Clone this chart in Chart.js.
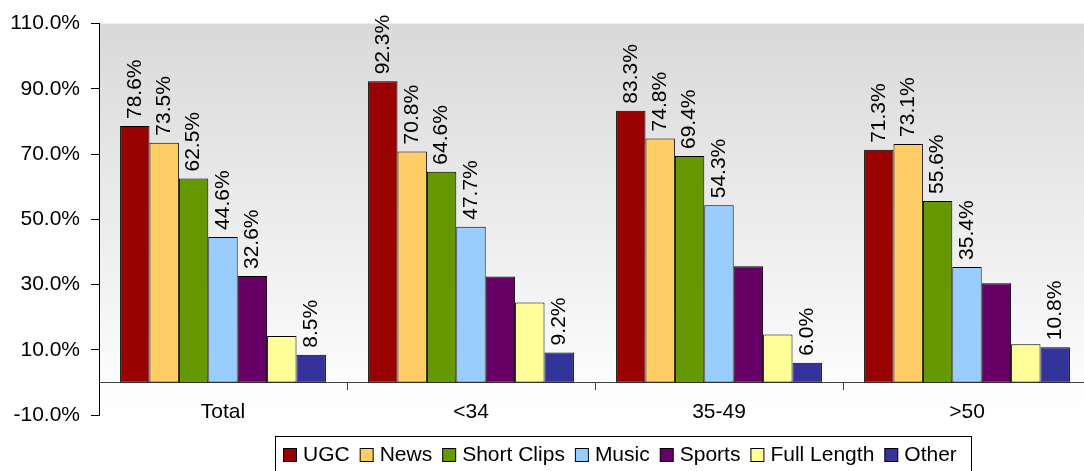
<!DOCTYPE html>
<html>
<head>
<meta charset="utf-8">
<script src="https://cdn.jsdelivr.net/npm/chart.js@4.4.0/dist/chart.umd.min.js"></script>
<style>
    html, body { margin: 0; padding: 0; background: #fff; overflow: hidden; }
    #wrap { width: 1092px; height: 471px; position: relative; }
</style>
</head>
<body>
<div id="wrap"><canvas id="videoChart"></canvas></div>
<script>
// data
const categories = ['Total', '<34', '35-49', '>50'];

const ugc        = [78.6, 92.3, 83.3, 71.3];
const news       = [73.5, 70.8, 74.8, 73.1];
const shortClips = [62.5, 64.6, 69.4, 55.6];
const music      = [44.6, 47.7, 54.3, 35.4];
const sports     = [32.6, 32.5, 35.6, 30.4];
const fullLength = [14.2, 24.5, 14.7, 11.7];
const other      = [8.5, 9.2, 6.0, 10.8];

const seriesNames  = ['UGC', 'News', 'Short Clips', 'Music', 'Sports', 'Full Length', 'Other'];
const seriesValues = [ugc, news, shortClips, music, sports, fullLength, other];
const seriesColors = ['#990000', '#FFCC66', '#669900', '#99CCFF', '#660066', '#FFFF99', '#333399'];

const yTickValues = [-10, 10, 30, 50, 70, 90, 110];

// which bars carry a value label (the rest are all labelled)
const allLabels        = [true, true, true, true];
const sportsLabels     = [true, false, false, false];
const fullLengthLabels = [false, false, false, false];
const seriesLabelShown = [allLabels, allLabels, allLabels, allLabels, sportsLabels, fullLengthLabels, allLabels];

const FONT_FAMILY = '"Liberation Sans", Arial, sans-serif';
const FONT_SIZE = 21;


// grey-to-white gradient behind the plot
const plotBackground = {
    id: 'plotBackground',
    beforeDraw(chart) {
        const { ctx, chartArea: a } = chart;
        const g = ctx.createLinearGradient(0, a.top, 0, a.bottom);
        g.addColorStop(0, '#d9d9d9');
        g.addColorStop(1, '#ffffff');
        ctx.save();
        ctx.fillStyle = g;
        ctx.fillRect(a.left, a.top, a.right - a.left, a.bottom - a.top);
        ctx.restore();
    }
};


// rotated value labels above the bars
const barLabels = {
    id: 'barLabels',
    afterDatasetsDraw(chart) {
        const ctx = chart.ctx;
        chart.data.datasets.forEach((ds, i) => {
            const meta = chart.getDatasetMeta(i);
            meta.data.forEach((bar, j) => {
                if (!ds.showLabels[j]) return;
                ctx.save();
                ctx.translate(bar.x, bar.y - 7);
                ctx.rotate(-Math.PI / 2);
                ctx.font = FONT_SIZE + 'px ' + FONT_FAMILY;
                ctx.fillStyle = '#000';
                ctx.textAlign = 'left';
                ctx.textBaseline = 'middle';
                ctx.fillText(ds.data[j].toFixed(1) + '%', 0, 0);
                ctx.restore();
            });
        });
    }
};


// boxed legend under the plot
const boxedLegend = {
    id: 'boxedLegend',
    afterDraw(chart) {
        const ctx = chart.ctx;
        const boxLeft = 275.5, boxTop = 436.5, boxRight = 971.5;
        const square = 13;

        ctx.save();
        ctx.fillStyle = '#fff';
        ctx.strokeStyle = '#000';
        ctx.lineWidth = 1;
        ctx.fillRect(boxLeft, boxTop, boxRight - boxLeft, 60);
        ctx.strokeRect(boxLeft, boxTop, boxRight - boxLeft, 60);

        ctx.font = FONT_SIZE + 'px ' + FONT_FAMILY;
        ctx.textAlign = 'left';
        ctx.textBaseline = 'middle';

        let x = 283;
        chart.data.datasets.forEach(ds => {
            ctx.fillStyle = ds.backgroundColor;
            ctx.fillRect(x + 0.5, 448.5, square, square);
            ctx.strokeRect(x + 0.5, 448.5, square, square);
            x += square + 7;
            ctx.fillStyle = '#000';
            ctx.fillText(ds.label, x, 455);
            x += ctx.measureText(ds.label).width + 10;
        });
        ctx.restore();
    }
};


const datasets = seriesNames.map((name, i) => ({
    label: name,
    data: seriesValues[i],
    showLabels: seriesLabelShown[i],
    backgroundColor: seriesColors[i],
    borderColor: '#000',
    borderWidth: 1,
    borderSkipped: false,
    categoryPercentage: 0.83,
    barPercentage: 1.0
}));


document.addEventListener('DOMContentLoaded', function() {
    const ctx = document.getElementById('videoChart').getContext('2d');

    new Chart(ctx, {
        type: 'bar',
        data: {
            labels: categories,
            datasets: datasets
        },
        options: {
            responsive: true,
            maintainAspectRatio: false,
            animation: false,
            layout: {
                padding: { top: 19, right: 1, bottom: 56, left: 0 }
            },
            plugins: {
                legend: { display: false },
                tooltip: { enabled: false }
            },
            scales: {
                x: {
                    position: { y: 0 },
                    grid: {
                        offset: true,
                        drawOnChartArea: false,
                        tickLength: 7,
                        color: '#404040'
                    },
                    border: { color: '#404040', width: 1 },
                    ticks: {
                        color: '#000',
                        padding: 10,
                        font: { family: FONT_FAMILY, size: FONT_SIZE }
                    }
                },
                y: {
                    min: -10,
                    max: 110,
                    afterBuildTicks: scale => {
                        scale.ticks = yTickValues.map(v => ({ value: v }));
                    },
                    afterFit: scale => {
                        scale.width = 99;
                    },
                    grid: {
                        drawOnChartArea: false,
                        tickLength: 8,
                        color: '#000'
                    },
                    border: { color: '#000', width: 1 },
                    ticks: {
                        color: '#000',
                        padding: 11,
                        font: { family: FONT_FAMILY, size: FONT_SIZE },
                        callback: value => value.toFixed(1) + '%'
                    }
                }
            }
        },
        plugins: [plotBackground, barLabels, boxedLegend]
    });
});
</script>
</body>
</html>
